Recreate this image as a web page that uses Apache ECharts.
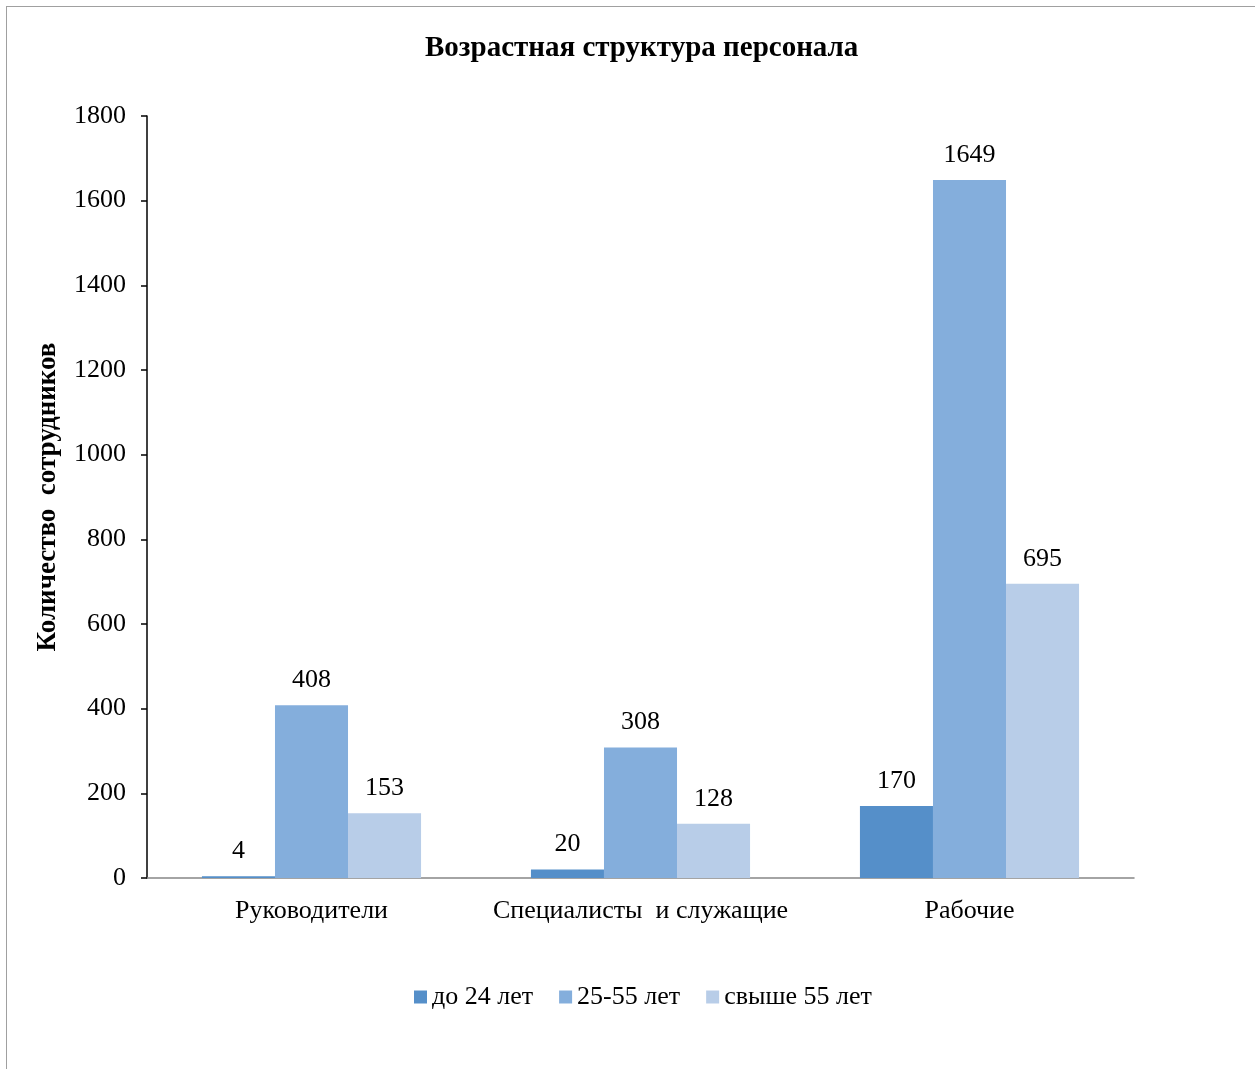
<!DOCTYPE html>
<html><head><meta charset="utf-8">
<script src="https://cdn.jsdelivr.net/npm/echarts@6/dist/echarts.min.js"></script>
<style>
html,body{margin:0;padding:0;background:#fff;overflow:hidden}
#frame{position:absolute;left:6px;top:6px;width:1300px;height:1100px;border:1px solid #a0a0a0;box-sizing:border-box}
#c{position:absolute;left:0;top:0;width:1255px;height:1069px}
</style></head>
<body><div id="frame"></div><div id="c"></div>
<script>
const categories = ['Руководители', 'Специалисты  и служащие', 'Рабочие'];
const seriesNames = ['до 24 лет', '25-55 лет', 'свыше 55 лет'];
const under24 = [4, 20, 170];
const mid25to55 = [408, 308, 1649];
const over55 = [153, 128, 695];
const colors = ['#558FC9', '#84AEDC', '#B8CDE8'];
const font = '"Liberation Serif", "Times New Roman", serif';
const chart = echarts.init(document.getElementById('c'));
const mk = (name, data, color) => ({
  name, type: 'bar', data, barGap: '0%', barCategoryGap: '33.4%',
  itemStyle: { color },
  label: { show: true, position: 'top', distance: 12, color: '#000', fontFamily: font, fontSize: 26 }
});
chart.setOption({
  animation: false,
  title: { text: 'Возрастная структура персонала', left: 420, top: 29,
    textStyle: { fontFamily: font, fontSize: 29, fontWeight: 'bold', color: '#000' } },
  legend: { bottom: 54, left: 409, itemWidth: 13, itemHeight: 13, itemGap: 26, itemTextGap: 7,
    icon: 'rect', textStyle: { fontFamily: font, fontSize: 26, color: '#000' } },
  grid: { left: 147, right: 121, top: 116, bottom: 191 },
  xAxis: { type: 'category', data: categories,
    axisLine: { lineStyle: { color: '#868686', width: 1.5 } },
    axisTick: { show: false },
    axisLabel: { interval: 0, fontFamily: font, fontSize: 26, color: '#000', margin: 20 } },
  yAxis: { type: 'value', min: 0, max: 1800, interval: 200,
    name: 'Количество  сотрудников', nameLocation: 'middle', nameGap: 85,
    nameTextStyle: { fontFamily: font, fontSize: 27, fontWeight: 'bold', color: '#000' },
    axisLine: { show: true, lineStyle: { color: '#000', width: 1.5 } },
    axisTick: { show: true, length: 6, lineStyle: { color: '#000', width: 1.5 } },
    splitLine: { show: false },
    axisLabel: { formatter: v => String(v), fontFamily: font, fontSize: 26, color: '#000', margin: 21 } },
  series: [mk(seriesNames[0], under24, colors[0]), mk(seriesNames[1], mid25to55, colors[1]), mk(seriesNames[2], over55, colors[2])]
});
</script></body></html>
